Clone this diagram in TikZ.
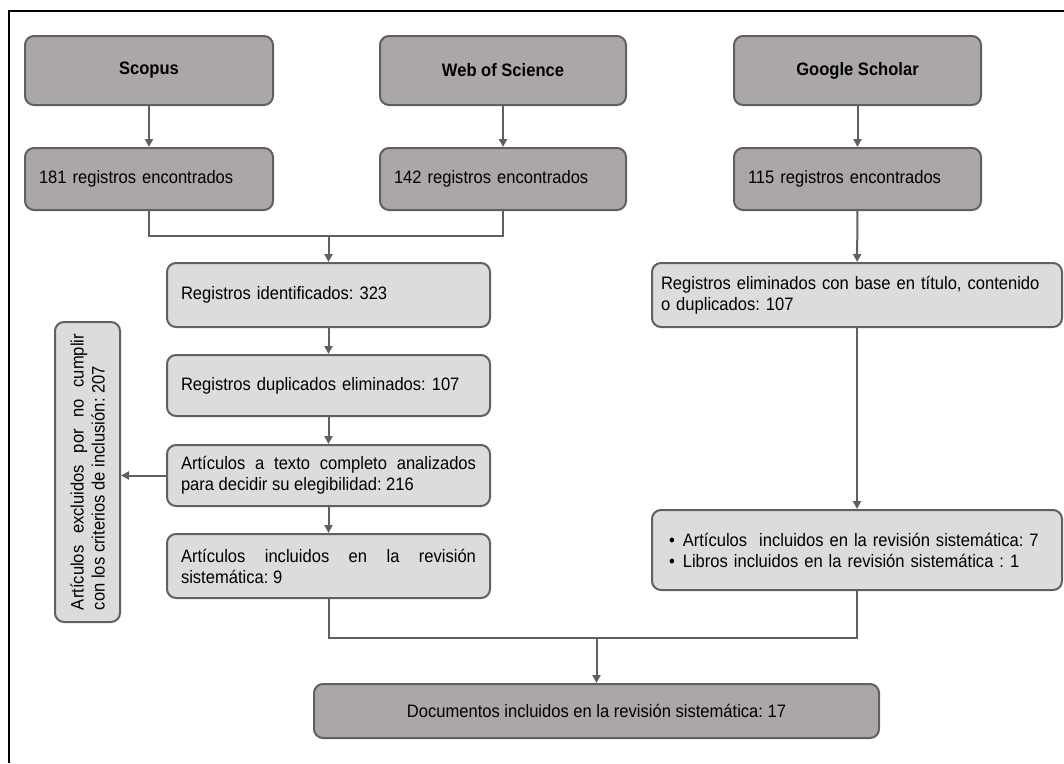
\documentclass[tikz,border=0pt]{standalone}
\usepackage{fontspec}
\setmainfont[FakeStretch=0.92]{Liberation Sans}
\usepackage{xcolor}
\usetikzlibrary{arrows.meta,positioning}
\frenchspacing
\hyphenpenalty=10000
\tolerance=10000
\definecolor{boxdark}{HTML}{ABA7A7}
\definecolor{boxlight}{HTML}{DDDCDC}
\definecolor{edgegray}{HTML}{606060}
\tikzset{%
  box/.style={draw=edgegray,line width=2pt,rounded corners=9pt,inner xsep=14pt,inner ysep=4pt,font=\fontsize{18}{21}\selectfont},
  source/.style={box,fill=boxdark,minimum height=69pt,font=\fontsize{18}{21}\selectfont\bfseries},
  found/.style={box,fill=boxdark,minimum height=62pt,align=left},
  stage/.style={box,fill=boxlight,minimum height=62pt},
  arrow/.style={line width=2pt,draw=edgegray,-{Triangle[length=8pt,width=8pt]}},
  link/.style={line width=2pt,draw=edgegray},
}

\begin{document}
\begin{tikzpicture}[x=1pt,y=1pt]
      \useasboundingbox (0,0) rectangle (1064,-763);
      \draw[line width=1.5pt] (9,-763) -- (9,-11) -- (1064,-11);

      % sources
      \node[source,minimum width=248pt] (scopus) at (149,-70.5) {Scopus};
      \node[source,minimum width=246pt] (wos) at (503,-70.5) {Web of Science};
      \node[source,minimum width=247pt] (scholar) at (857.5,-70.5) {Google Scholar};
      \node[found,text width=220pt,below=41pt of scopus] (scopusfound) {181 registros encontrados};
      \node[found,text width=218pt,below=41pt of wos] (wosfound) {142 registros encontrados};
      \node[found,text width=219pt,below=41pt of scholar] (scholarfound) {115 registros encontrados};

      % left branch
      \node[stage,text width=295pt,minimum height=64pt,align=left] (ident) at (328.5,-295) {Registros identificados: 323};
      \node[stage,text width=295pt,minimum height=61pt,align=left,below=26pt of ident] (dup) {Registros duplicados eliminados: 107};
      \node[stage,text width=295pt,minimum height=61pt,align=justify,below=27pt of dup] (art) {Artículos a texto completo analizados\linebreak para decidir su elegibilidad: 216};
      \node[stage,text width=295pt,minimum height=64pt,align=justify,below=26pt of art] (incl) {Artículos incluidos en la revisión\linebreak sistemática: 9};
      \node[stage,rotate=90,text width=276pt,inner xsep=12pt,minimum height=65pt,align=justify] (excl) at (87.5,-472) {Artículos excluidos por no cumplir\linebreak con los criterios de inclusión: 207};

      % right branch
      \node[stage,text width=392pt,inner xsep=9pt,minimum height=64pt,align=left] (elim) at (857,-295) {Registros eliminados con base en título, contenido\\o duplicados: 107};
      \node[stage,text width=392pt,inner xsep=9pt,minimum height=80pt,align=left] (final) at (857,-550) {\hspace{8pt}\textbullet\hspace{8pt}Artículos\ \ incluidos en la revisión sistemática: 7\\\hspace*{8pt}\textbullet\hspace{8pt}Libros incluidos en la revisión sistemática : 1};

      \node[box,fill=boxdark,minimum width=565pt,minimum height=54pt] (docs) at (596.5,-711) {Documentos incluidos en la revisión sistemática: 17};

      \coordinate (merge) at (328.5,-236);
      \coordinate (join) at (596.5,-638);

      \draw[arrow] (scopus) -- (scopusfound);
      \draw[arrow] (wos) -- (wosfound);
      \draw[arrow] (scholar) -- (scholarfound);
      \draw[link] (scopusfound) |- (merge) -| (wosfound);
      \draw[arrow] (merge) -- (ident);
      \draw[arrow] (ident) -- (dup);
      \draw[arrow] (dup) -- (art);
      \draw[arrow] (art) -- (incl);
      \draw[arrow] (art.west) -- (art.west -| excl.south);
      \draw[arrow] (scholarfound) -- (elim);
      \draw[arrow] (elim) -- (final);
      \draw[link] (incl) |- (join) -| (final);
      \draw[arrow] (join) -- (docs);
\end{tikzpicture}
\end{document}
